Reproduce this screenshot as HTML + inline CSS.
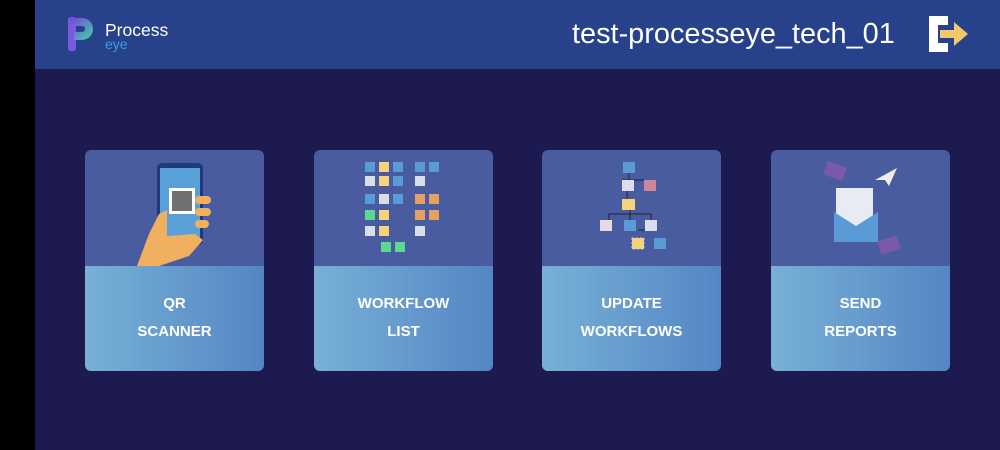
<!DOCTYPE html>
<html><head><meta charset="utf-8"><style>
*{margin:0;padding:0;box-sizing:border-box}
body{width:1000px;height:450px;background:#1c1a4f;position:relative;overflow:hidden;font-family:"Liberation Sans",sans-serif}
.black{position:absolute;left:0;top:0;width:35px;height:450px;background:#000}
.hdr{position:absolute;left:35px;top:0;width:965px;height:69px;background:#27418a}
.title{position:absolute;left:572px;top:18px;font-size:28.9px;color:#fff}
.card{position:absolute;top:150px;width:179px;height:221px;border-radius:6px;overflow:hidden;background:#4a5ca0}
.bot{position:absolute;left:0;top:116px;width:100%;height:105px;background:linear-gradient(90deg,#78b0d6,#5486c5);color:#fff;font-size:15px;font-weight:bold;text-align:center;line-height:28px;padding-top:24px}
.card svg{position:absolute;left:0;top:0}
</style></head><body>
<div class="black"></div>
<div class="hdr"></div>
<svg style="position:absolute;left:66px;top:15px" width="40" height="40">
<defs><linearGradient id="lg" x1="0" y1="0" x2="1" y2="1"><stop offset="0" stop-color="#7b3fe4"/><stop offset="1" stop-color="#3fd6a0"/></linearGradient></defs>
<rect x="2" y="2" width="8" height="34" rx="3" fill="#7a5ae0"/>
<path d="M4 3h12a11 11 0 0 1 0 22h-8v-8h8a3 3 0 0 0 0-6H4z" fill="url(#lg)"/>
</svg>
<div style="position:absolute;left:105px;top:20px;color:#fff;font-size:17.5px">Process</div>
<div style="position:absolute;left:105px;top:36px;color:#3aa0d8;font-size:14px">eye</div>
<div class="title">test-processeye_tech_01</div>
<svg style="position:absolute;left:925px;top:14px" width="50" height="42">
<path d="M4 2h19v9h-10v18h10v9H4z" fill="#fff"/>
<path d="M15 16h14v-8l14 12-14 12v-8H15z" fill="#f5c86a"/>
</svg>

<div class="card" style="left:85px">
<svg width="179" height="116">
<rect x="72" y="13" width="46" height="82" rx="5" fill="#1f3a7a"/>
<rect x="75" y="18" width="40" height="72" fill="#5aa0d8"/>
<rect x="84" y="38" width="26" height="26" fill="#fff"/>
<rect x="87" y="41" width="20" height="20" fill="#333" opacity=".7"/>
<path d="M52 116l12-32 10-20 8-4 0 26 28-2 8 6-14 16-30 10z" fill="#f0b060"/>
<rect x="110" y="46" width="16" height="8" rx="4" fill="#f0b060"/>
<rect x="110" y="58" width="16" height="8" rx="4" fill="#f0b060"/>
<rect x="110" y="70" width="14" height="8" rx="4" fill="#f0b060"/>
</svg>
<div class="bot">QR<br>SCANNER</div></div>

<div class="card" style="left:314px">
<svg width="179" height="116">
<g fill="#5a9ad6"><rect x="51" y="12" width="10" height="10"/><rect x="79" y="12" width="10" height="10"/><rect x="101" y="12" width="10" height="10"/><rect x="115" y="12" width="10" height="10"/><rect x="79" y="26" width="10" height="10"/><rect x="51" y="44" width="10" height="10"/><rect x="79" y="44" width="10" height="10"/></g>
<g fill="#f5d37a"><rect x="65" y="12" width="10" height="10"/><rect x="65" y="26" width="10" height="10"/><rect x="65" y="60" width="10" height="10"/><rect x="65" y="76" width="10" height="10"/></g>
<g fill="#d8dde8"><rect x="51" y="26" width="10" height="10"/><rect x="65" y="44" width="10" height="10"/><rect x="101" y="26" width="10" height="10"/><rect x="51" y="76" width="10" height="10"/><rect x="101" y="76" width="10" height="10"/></g>
<g fill="#e8a060"><rect x="101" y="44" width="10" height="10"/><rect x="115" y="44" width="10" height="10"/><rect x="101" y="60" width="10" height="10"/><rect x="115" y="60" width="10" height="10"/></g>
<g fill="#5dd890"><rect x="51" y="60" width="10" height="10"/><rect x="67" y="92" width="10" height="10"/><rect x="81" y="92" width="10" height="10"/></g>
</svg>
<div class="bot">WORKFLOW<br>LIST</div></div>

<div class="card" style="left:542px">
<svg width="179" height="116">
<g stroke="#223" stroke-width="1" fill="none"><path d="M87 22v8M80 30h22M85 40v10M67 70v-6h42v6M88 58v12M96 80h20"/></g>
<rect x="81" y="12" width="12" height="11" fill="#5a9ad6"/>
<rect x="80" y="30" width="12" height="11" fill="#dde"/>
<rect x="102" y="30" width="12" height="11" fill="#c89"/>
<rect x="80" y="49" width="13" height="11" fill="#f5d37a"/>
<rect x="58" y="70" width="12" height="11" fill="#e8d8e0"/>
<rect x="82" y="70" width="12" height="11" fill="#5a9ad6"/>
<rect x="103" y="70" width="12" height="11" fill="#dde"/>
<rect x="90" y="88" width="12" height="11" fill="#f5d37a" stroke="#ccc" stroke-dasharray="2"/>
<rect x="112" y="88" width="12" height="11" fill="#5a9ad6"/>
</svg>
<div class="bot">UPDATE<br>WORKFLOWS</div></div>

<div class="card" style="left:771px">
<svg width="179" height="116">
<rect x="54" y="14" width="20" height="14" fill="#7a5aa8" transform="rotate(20 64 21)"/>
<path d="M104 30l22-12-8 18-4-6z" fill="#eee"/>
<rect x="65" y="38" width="37" height="40" fill="#e8ecf2"/>
<path d="M63 62l22 14 22-14v30H63z" fill="#5a9ad6"/>
<rect x="108" y="88" width="20" height="14" fill="#7a5aa8" transform="rotate(-15 118 95)"/>
</svg>
<div class="bot">SEND<br>REPORTS</div></div>
</body></html>
